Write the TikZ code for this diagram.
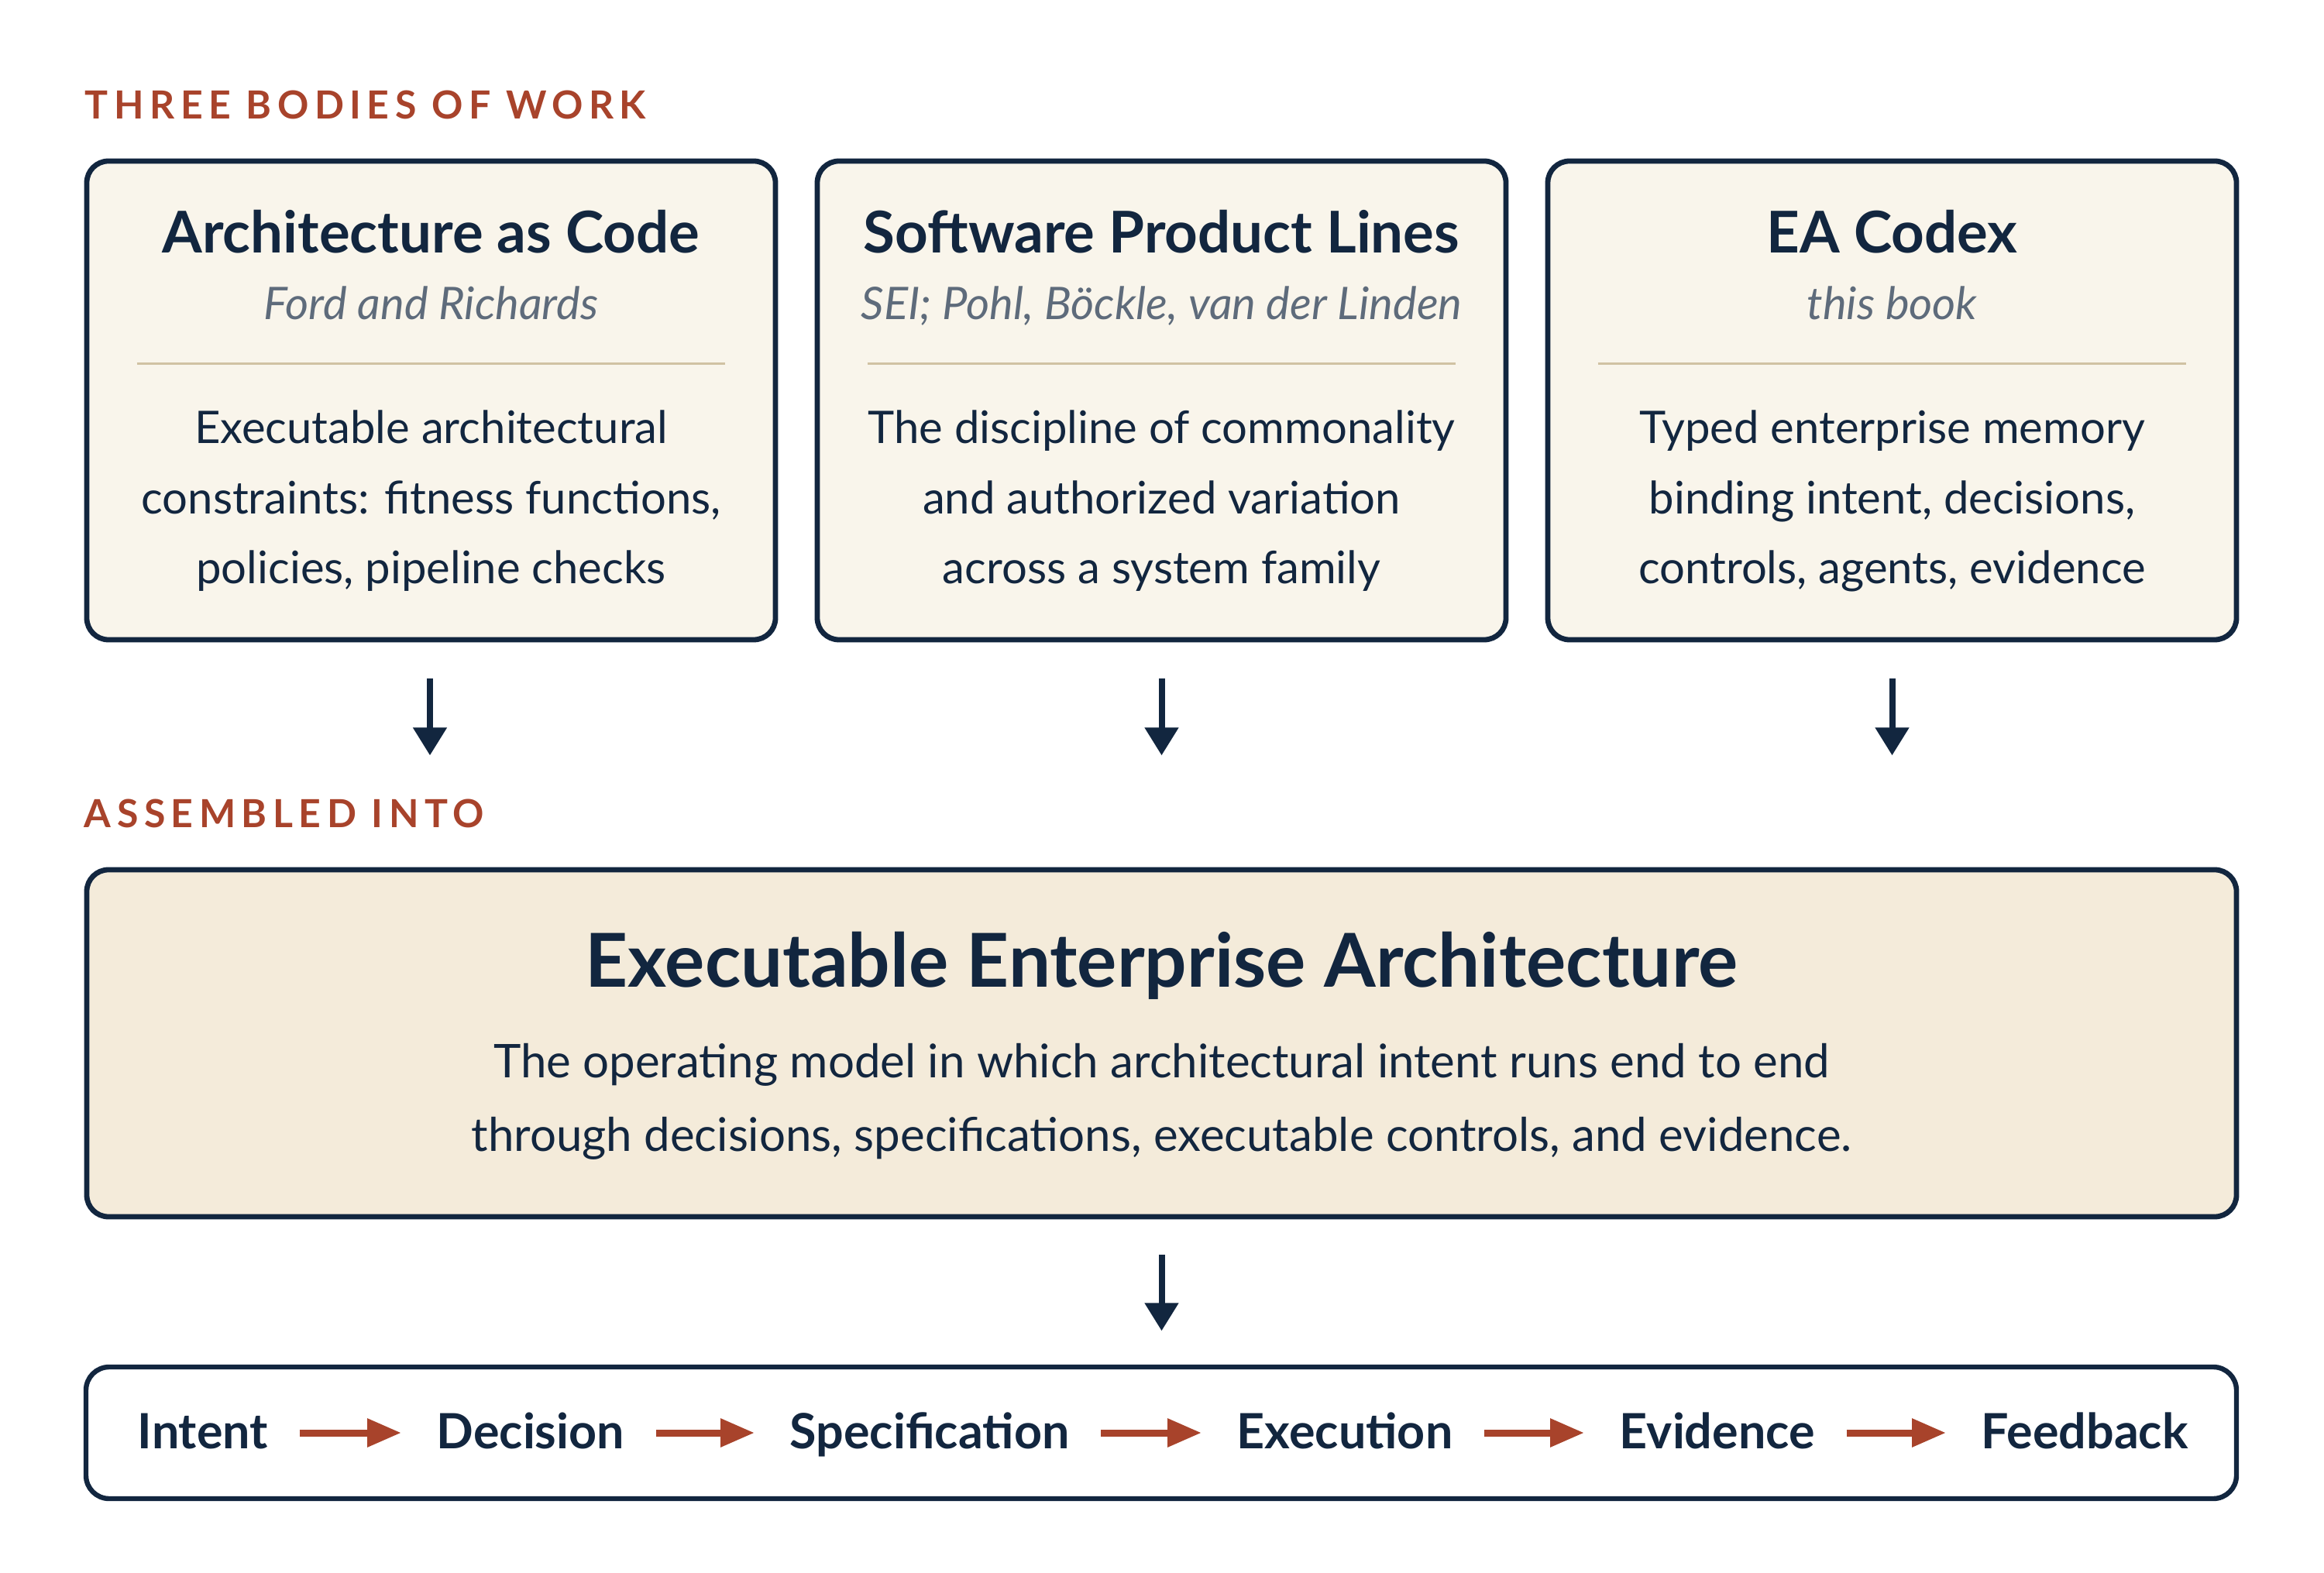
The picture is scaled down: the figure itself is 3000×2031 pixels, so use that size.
\documentclass[tikz,border=0pt]{standalone}
\usepackage{fontspec}
\setmainfont{Lato}
\usetikzlibrary{arrows.meta,calc}
\definecolor{navy}{HTML}{12263F}
\definecolor{rust}{HTML}{A8432B}
\definecolor{creamA}{HTML}{F9F5EB}
\definecolor{creamB}{HTML}{F4EBDA}
\definecolor{subgray}{HTML}{5E6B7B}
\definecolor{tan}{HTML}{D0C2A3}
\tikzset{
  card/.style={draw=navy, line width=1.7pt, fill=creamA, rounded corners=7pt, minimum width=222.25pt, minimum height=154.5pt, inner sep=0pt},
  bigbox/.style={draw=navy, line width=1.7pt, fill=creamB, rounded corners=7pt, minimum width=693.75pt, minimum height=112pt, inner sep=0pt},
  flowbox/.style={draw=navy, line width=1.6pt, fill=white, rounded corners=7.5pt, minimum width=694pt, minimum height=42.5pt, inner sep=0pt},
  sectlabel/.style={anchor=base west, inner sep=0pt, text=rust, font=\fontsize{12.5pt}{15pt}\selectfont\bfseries\addfontfeatures{LetterSpace=15}},
  cardtitle/.style={anchor=base, inner sep=0pt, text=navy, font=\fontsize{18.6pt}{22pt}\selectfont\bfseries},
  cardsub/.style={anchor=base, inner sep=0pt, text=subgray, font=\fontsize{14.5pt}{17pt}\selectfont\itshape},
  cardbody/.style={anchor=base, inner sep=0pt, text=navy, font=\fontsize{14.5pt}{17pt}\selectfont},
  bigtitle/.style={anchor=base, inner sep=0pt, text=navy, font=\fontsize{24pt}{28pt}\selectfont\bfseries},
  bigbody/.style={anchor=base, inner sep=0pt, text=navy, font=\fontsize{15pt}{18pt}\selectfont},
  flowword/.style={anchor=base west, inner sep=0pt, text=navy, font=\fontsize{15.7pt}{19pt}\selectfont\bfseries},
  downarrow/.style={draw=navy, line width=2pt, -{Triangle[length=9pt,width=10.5pt]}},
  flowarrow/.style={draw=rust, line width=2.25pt, -{Triangle[length=11pt,width=8.75pt]}},
  sepline/.style={draw=tan, line width=0.75pt}
}
\begin{document}
\begin{tikzpicture}[x=0.25pt,y=-0.25pt]
\useasboundingbox (0,0) rectangle (3000,2031);

\node[sectlabel] (lab1) at (109,154) {THREE BODIES OF WORK};

% cards
\node[card] (c1) at (556.5,517) {};
\node[card] (c2) at (1499.5,517) {};
\node[card] (c3) at (2442.5,517) {};

\node[cardtitle] (t1) at (556.5,327) {Architecture as Code};
\node[cardsub] (s1) at (556.5,413) {Ford and Richards};
\draw[sepline] ($(c1.west)+(68,-47)$) coordinate (l1a) -- ($(c1.east)+(-68,-47)$) coordinate (l1b);
\node[cardbody] (b1a) at (556.5,573) {Executable architectural};
\node[cardbody] (b1b) at (556.5,663.5) {constraints: fitness functions,};
\node[cardbody] (b1c) at (556.5,754) {policies, pipeline checks};

\node[cardtitle] (t2) at (1499.5,327) {Software Product Lines};
\node[cardsub] (s2) at (1499.5,413) {SEI; Pohl, Böckle, van der Linden};
\draw[sepline] ($(c2.west)+(68,-47)$) coordinate (l2a) -- ($(c2.east)+(-68,-47)$) coordinate (l2b);
\node[cardbody] (b2a) at (1499.5,573) {The discipline of commonality};
\node[cardbody] (b2b) at (1499.5,663.5) {and authorized variation};
\node[cardbody] (b2c) at (1499.5,754) {across a system family};

\node[cardtitle] (t3) at (2442.5,327) {EA Codex};
\node[cardsub] (s3) at (2442.5,413) {this book};
\draw[sepline] ($(c3.west)+(68,-47)$) coordinate (l3a) -- ($(c3.east)+(-68,-47)$) coordinate (l3b);
\node[cardbody] (b3a) at (2442.5,573) {Typed enterprise memory};
\node[cardbody] (b3b) at (2442.5,663.5) {binding intent, decisions,};
\node[cardbody] (b3c) at (2442.5,754) {controls, agents, evidence};

% down arrows
\draw[downarrow] ($(c1.south)+(-1.5,47)$) coordinate (d1s) -- ++(0,99) coordinate (d1e);
\draw[downarrow] ($(c2.south)+(0,47)$) coordinate (d2s) -- ++(0,99) coordinate (d2e);
\draw[downarrow] ($(c3.south)+(0,47)$) coordinate (d3s) -- ++(0,99) coordinate (d3e);

\node[sectlabel] (lab2) at (108,1069) {ASSEMBLED INTO};

% big box
\node[bigbox] (big) at (1499.5,1347) {};
\node[bigtitle] (bt) at (1499.5,1274) {Executable Enterprise Architecture};
\node[bigbody] (bb1) at (1499.5,1391) {The operating model in which architectural intent runs end to end};
\node[bigbody] (bb2) at (1499.5,1486) {through decisions, specifications, executable controls, and evidence.};

\draw[downarrow] ($(big.south)+(0,46)$) coordinate (d4s) -- ++(0,98) coordinate (d4e);

% flow box
\node[flowbox] (flow) at (1499,1850) {};
\node[flowword] (f1) at (177,1870) {Intent};
\node[flowword] (f2) at (563,1870) {Decision};
\node[flowword] (f3) at (1019,1870) {Specification};
\node[flowword] (f4) at (1596,1870) {Execution};
\node[flowword] (f5) at (2090,1870) {Evidence};
\node[flowword] (f6) at (2557,1870) {Feedback};
\foreach \a/\b in {f1/f2,f2/f3,f3/f4,f4/f5,f5/f6}{
  \draw[flowarrow] ($(\a.base east)+(40,-20)$) -- ($(\b.base west)+(-45,-20)$);
}
\end{tikzpicture}
\end{document}
